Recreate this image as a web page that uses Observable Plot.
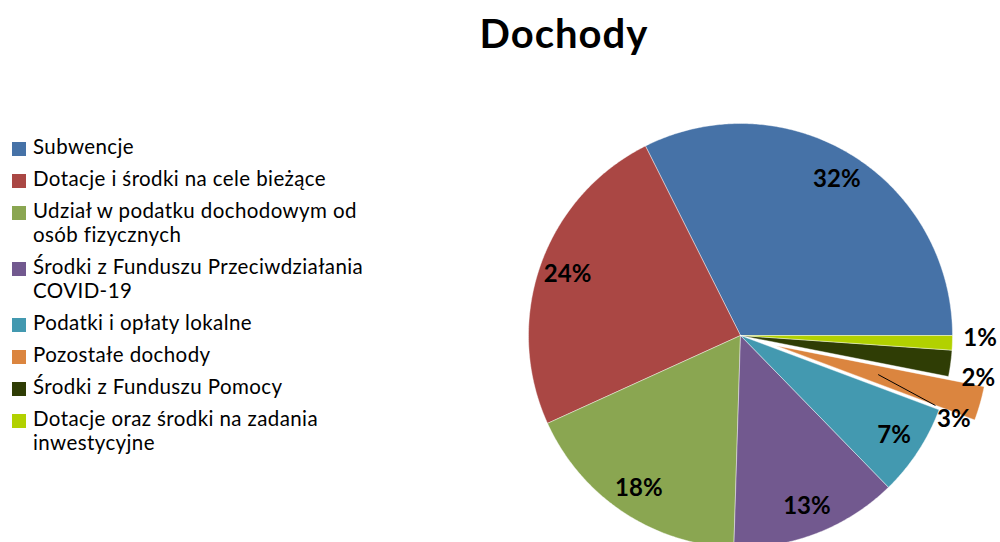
<!DOCTYPE html>
<html>
<head>
<meta charset="utf-8">
<script src="https://cdn.jsdelivr.net/npm/d3@7"></script>
<script src="https://cdn.jsdelivr.net/npm/@observablehq/plot@0.6"></script>
<style>
  body { margin: 0; background: #fff; font-family: Lato, "Open Sans", sans-serif; }
  #wrap { position: relative; width: 1000px; height: 542px; overflow: hidden; }
  #title { position: absolute; left: 564px; top: 13px; transform: translateX(-50%);
           font-size: 40px; line-height: 40px; font-weight: 700; color: #000; white-space: nowrap; letter-spacing: 1px; }
  #legend { position: absolute; left: 12px; top: 133.5px; width: 380px; }
  .item { display: flex; align-items: flex-start; margin-bottom: 8px; }
  .sw { width: 14px; height: 14px; flex: none; margin-top: 8px; margin-right: 7px; }
  .lab { font-size: 20.5px; line-height: 24px; letter-spacing: 0.4px; color: #000; width: 345px; }
  #chart { position: absolute; left: 0; top: 0; }
</style>
</head>
<body>
<div id="wrap">
  <div id="chart"></div>
  <div id="title">Dochody</div>
  <div id="legend"></div>
</div>
<script>
// ---- data ----
const categories = [
  "Subwencje",
  "Dotacje i środki na cele bieżące",
  "Udział w podatku dochodowym od osób fizycznych",
  "Środki z Funduszu Przeciwdziałania COVID-19",
  "Podatki i opłaty lokalne",
  "Pozostałe dochody",
  "Środki z Funduszu Pomocy",
  "Dotacje oraz środki na zadania inwestycyjne"
];
const values = [32.4, 24.4, 17.7, 12.8, 7.0, 2.6, 2.0, 1.1];
const colors = ["#4672A7", "#AA4744", "#8AA651", "#72598F", "#4399B0", "#DB853F", "#2F3D05", "#B2D100"];

// ---- layout config (not data) ----
const explode = {5: 0.175};                 // exploded slice offset (in radius units)
const labelR = 0.865;                        // default label radius
const labelOverride = {                      // small slices: outside labels
  5: {r: 1.08, dDeg: -5.5},
  6: {r: 1.14, dDeg: -2.6},
  7: {r: 1.13, dDeg: 1.3}
};

// ---- geometry from data ----
const total = d3.sum(values);
let cum = 0;
const slices = values.map((v, i) => {
  const a0 = cum / total * 2 * Math.PI;
  cum += v;
  const a1 = cum / total * 2 * Math.PI;
  return {i, key: categories[i], v, a0, a1, mid: (a0 + a1) / 2};
});

const pts = [];
for (const s of slices) {
  const off = explode[s.i] || 0;
  const ox = off * Math.cos(s.mid), oy = off * Math.sin(s.mid);
  pts.push({key: s.key, x: ox, y: oy});
  const n = Math.max(2, Math.ceil((s.a1 - s.a0) / (Math.PI / 360)));
  for (let k = 0; k <= n; k++) {
    const a = s.a0 + (s.a1 - s.a0) * k / n;
    pts.push({key: s.key, x: ox + Math.cos(a), y: oy + Math.sin(a)});
  }
  pts.push({key: s.key, x: ox, y: oy});
}

const labels = slices.map(s => {
  const off = explode[s.i] || 0;
  const ox = off * Math.cos(s.mid), oy = off * Math.sin(s.mid);
  const o = labelOverride[s.i];
  if (o) {
    const a = s.mid + o.dDeg * Math.PI / 180;
    return {x: o.r * Math.cos(a), y: o.r * Math.sin(a), text: Math.round(s.v) + "%"};
  }
  return {x: ox + labelR * Math.cos(s.mid), y: oy + labelR * Math.sin(s.mid), text: Math.round(s.v) + "%"};
});

// leader line for the exploded slice label
const ex = slices[5];
const leader = [{
  x1: 0.675 * Math.cos(ex.mid), y1: 0.675 * Math.sin(ex.mid),
  x2: 0.977 * Math.cos(ex.mid - 3.9 * Math.PI / 180), y2: 0.977 * Math.sin(ex.mid - 3.9 * Math.PI / 180)
}];

const chart = Plot.plot({
  width: 1000,
  height: 542,
  margin: 0,
  x: {domain: [-1, 1], range: [528, 952], axis: null},
  y: {domain: [-1, 1], range: [547, 123], axis: null},
  color: {domain: categories, range: colors},
  style: {background: "transparent", overflow: "visible"},
  marks: [
    Plot.line(pts, {x: "x", y: "y", z: "key", fill: "key", stroke: "white", strokeWidth: 0.6, strokeOpacity: 0.7, curve: "linear"}),
    Plot.link(leader, {x1: "x1", y1: "y1", x2: "x2", y2: "y2", stroke: "black", strokeWidth: 1}),
    Plot.text(labels, {x: "x", y: "y", text: "text", fontSize: 24, fontWeight: "bold", fill: "black", fontFamily: "Lato, sans-serif"})
  ]
});
document.getElementById("chart").appendChild(chart);

// legend
const leg = document.getElementById("legend");
categories.forEach((c, i) => {
  const it = document.createElement("div");
  it.className = "item";
  const sw = document.createElement("div");
  sw.className = "sw";
  sw.style.background = colors[i];
  const lb = document.createElement("div");
  lb.className = "lab";
  lb.textContent = c;
  it.appendChild(sw); it.appendChild(lb);
  leg.appendChild(it);
});
</script>
</body>
</html>
